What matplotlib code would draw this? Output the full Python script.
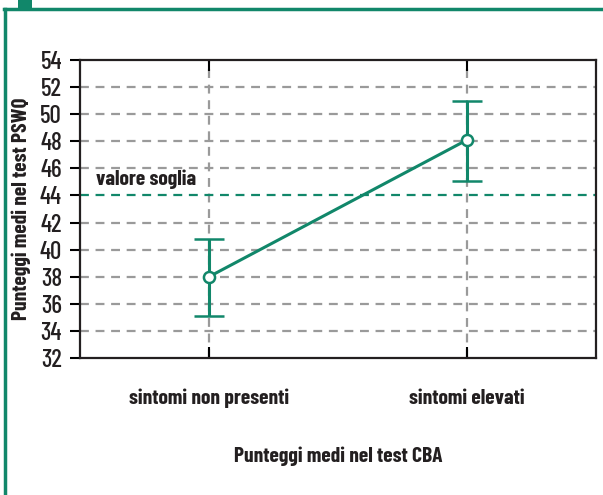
import matplotlib.pyplot as plt
from matplotlib.lines import Line2D
from matplotlib.patches import Rectangle

# data
categories = ['sintomi non presenti', 'sintomi elevati']
means = [38.0, 48.1]
err_low = [35.1, 45.1]
err_high = [40.8, 51.0]
threshold = 44
yticks = list(range(32, 56, 2))

green = '#11876a'
grey = '#9a9a9a'
ink = '#231f20'
plt.rcParams['font.family'] = ['Barlow Condensed', 'Archivo Narrow', 'DejaVu Sans']

fig = plt.figure(figsize=(6.03, 4.95), dpi=100)
ax = fig.add_axes([80/603, 1-358/495, 516/603, 298/495])

x = list(range(len(categories)))
yerr = [[m - l for m, l in zip(means, err_low)],
        [h - m for m, h in zip(means, err_high)]]

# grid
for t in yticks[1:-1]:
    if t != threshold:
        ax.axhline(t, color=grey, linestyle=(0, (4, 3)), linewidth=1.6, zorder=1)
for xi in x:
    ax.axvline(xi, color=grey, linestyle=(0, (4, 3)), linewidth=1.6, zorder=1)
ax.axhline(threshold, color=green, linestyle=(0, (4, 3)), linewidth=1.6, zorder=2)
ax.text(-0.437, threshold + 0.5, 'valore soglia', fontsize=15.5, fontweight='bold',
        color=ink, va='bottom', ha='left')

ax.errorbar(x, means, yerr=yerr, color=green, linewidth=2.2, elinewidth=2.2,
            capsize=11, capthick=2.2, marker='o', markersize=8,
            markerfacecolor='white', markeredgecolor=green, markeredgewidth=1.8,
            zorder=3)

ax.set_xlim(-0.5, 1.5)
ax.set_ylim(32, 54)
ax.set_yticks(yticks)
ax.set_xticks(x)
ax.set_xticklabels(categories, fontsize=15.5, fontweight='bold', color=ink)
ax.tick_params(axis='y', direction='out', length=7, width=1.5, pad=6,
               labelsize=18, labelcolor=ink)
for lbl in ax.get_yticklabels():
    lbl.set_fontweight('medium')
ax.tick_params(axis='x', direction='in', length=8, width=1.5, pad=22,
               top=True)
for s in ax.spines.values():
    s.set_linewidth(1.6)
    s.set_color(ink)

ax.set_ylabel('Punteggi medi nel test PSWQ', fontsize=15.5, fontweight='bold',
              color=ink, labelpad=6)
ax.set_xlabel('Punteggi medi nel test CBA', fontsize=15.5, fontweight='bold',
              color=ink, labelpad=28)

# green frame
fig.add_artist(Line2D([5/603, 5/603], [0, 1-9/495], transform=fig.transFigure,
                      color=green, linewidth=2.5))
fig.add_artist(Line2D([4/603, 1], [1-9/495, 1-9/495], transform=fig.transFigure,
                      color=green, linewidth=2.5))
fig.add_artist(Rectangle((18/603, 1-9/495), 14/603, 9/495, transform=fig.transFigure,
                         color=green, linewidth=0))

fig.savefig('out.png', dpi=100)
